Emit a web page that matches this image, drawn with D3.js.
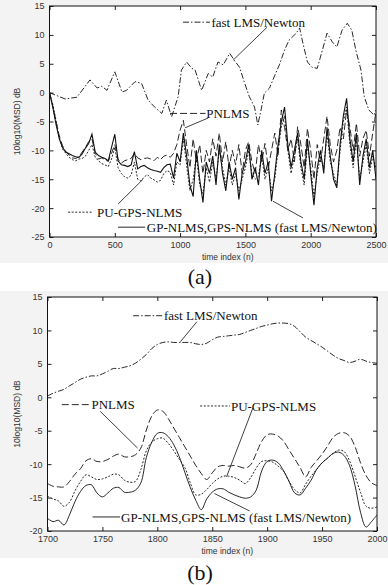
<!DOCTYPE html>
<html>
<head>
<meta charset="utf-8">
<script src="https://cdn.jsdelivr.net/npm/d3@7"></script>
<style>
  body { margin: 0; background: #fff; }
  svg { display: block; }
</style>
</head>
<body>
<div id="chart"></div>
<script>
// ---- panel (a) data ----
const aXTicks = [0, 500, 1000, 1500, 2000, 2500];
const aYTicks = [15, 10, 5, 0, -5, -10, -15, -20, -25];

// lower curves sampled every 25 samples, n = 0..2500
const aIndex = d3.range(0, 2501, 25);

const aGP = [
  0, -2.5, -5.5, -8, -9.5, -10.3, -10.6, -10.9, -11.1, -11.2,
  -10.6, -9.6, -8.8, -7.2, -10.3, -10.9, -11.2, -11.4, -11.8, -9.5,
  -7.2, -11.8, -12.5, -12.6, -12.8, -12.5, -10.2, -13.2, -12.8, -12.6,
  -13.0, -13.3, -13.5, -13.6, -13.8, -13.0, -12.5, -12.4, -14.8, -10.5,
  -12, -7, -11, -16, -18, -10, -15, -19, -12, -14,
  -11, -16, -9, -14, -17, -12, -15, -13, -18.5, -14,
  -12, -9, -15, -13, -16, -10, -14, -12, -18.8, -14,
  -9, -5, -2.5, -9, -13, -10, -7, -12, -15, -8,
  -14, -19.5, -13, -10, -14, -6, -11, -15, -16.5, -9,
  -4, -1, -8, -12, -7, -16, -11, -8, -13, -10,
  -15
];

const aPN = [
  0, -2.3, -5, -7.5, -9.2, -10.2, -10.8, -11.3, -11.4, -11.1,
  -10.3, -9.5, -8.5, -8.0, -10.5, -11.5, -11.3, -11.6, -11.9, -10.5,
  -9.0, -11.5, -12.2, -11.8, -11.6, -11.4, -10.5, -11.3, -11.6, -11.4,
  -11.3, -11.5, -11.8, -11.2, -11.6, -11.0, -10.8, -11.2, -10.5, -9.0,
  -6.5, -4.8, -9, -13, -8, -12, -9, -14, -10, -12,
  -8, -11, -7, -12, -8.5, -13, -10, -12.5, -9, -14,
  -10, -8.5, -12, -14, -9, -12, -8.8, -13, -10, -7,
  -11, -3, -6, -10, -8, -12, -5.9, -9, -13, -6.2,
  -10, -15, -9, -12, -8, -4.1, -9, -12, -10, -6,
  -8, -3, -6, -10, -5.3, -11, -8, -6.5, -11, -7,
  -3.3
];

const aPU = [
  0, -2.0, -4.8, -7.8, -9.8, -10.5, -11.2, -11.6, -11.8, -11.5,
  -11.4, -11.0, -10.0, -9.0, -11.2, -11.8, -12.3, -12.5, -12.8, -11.5,
  -9.5, -13.0, -14.0, -14.6, -14.8, -14.3, -12.0, -15.0, -15.3, -14.6,
  -14.2, -14.8, -15.1, -15.5, -15.2, -14.0, -13.5, -13.8, -16.0, -12.0,
  -12.5, -8, -12.5, -17, -15, -11, -16, -17.5, -13, -15.5,
  -12, -15, -10, -13, -16, -13, -16, -14, -17, -15,
  -13, -10, -14, -15, -14.5, -11, -15, -13, -17, -15,
  -10, -6, -4, -10, -14, -11, -8, -13, -16, -9,
  -13, -18, -14, -11, -13, -7, -12, -14, -16, -10,
  -5, -2.5, -9, -13, -8, -15, -12, -9, -14, -11,
  -13
];

// fast LMS/Newton read at its turning points
const aFastN = [0, 120, 210, 310, 365, 400, 440, 500, 555, 590, 655, 705, 755, 805, 860, 895, 935, 985,
  1010, 1050, 1090, 1115, 1165, 1215, 1250, 1290, 1330, 1380, 1415, 1455, 1495, 1530, 1570, 1595, 1620,
  1645, 1685, 1725, 1760, 1800, 1835, 1890, 1915, 1940, 1975, 2010, 2050, 2090, 2125, 2165, 2200, 2240,
  2280, 2315, 2345, 2385, 2410, 2445, 2485, 2500];
const aFast = [0, -1.1, -0.8, 2.2, 0.8, 1.1, 0.4, 3.6, 0.1, 0.4, 1.9, 1.6, -1.3, -2.5, -3.6, -1.3, -4.2, -0.7,
  3.9, 5.3, 4.2, 3.9, 0.4, 3.3, 2.7, 5.3, 4.8, 6.8, 5.6, 4.4, 1.6, -0.7, -2.5, -5.6, -3.0,
  -0.1, 0.8, 3.0, 4.8, 7.4, 9.1, 10.3, 11.2, 8.6, 5.3, 4.4, 4.2, 7.4, 10.3, 8.8, 7.9, 10.8,
  12.0, 10.8, 7.4, 3.9, -0.7, -3.0, -3.9, -3.0];

// ---- panel (b) data ----
const bXTicks = [1700, 1750, 1800, 1850, 1900, 1950, 2000];
const bYTicks = [15, 10, 5, 0, -5, -10, -15, -20];
const bIndex = d3.range(1700, 2001, 5);

const bFast = [
  0.2, 0.6, 0.9, 1.2, 1.7, 2.2, 2.7, 3.0, 3.2, 3.2,
  3.5, 3.9, 4.3, 4.3, 4.5, 4.7, 5.1, 5.7, 6.4, 7.3,
  7.9, 8.2, 8.3, 8.2, 8.2, 8.2, 8.2, 8.0, 7.9, 8.1,
  8.6, 9.0, 9.1, 9.2, 9.3, 9.4, 9.7, 10.0, 10.3, 10.6,
  10.8, 11.0, 11.1, 11.1, 11.0, 10.6, 9.8, 9.0, 8.5, 8.0,
  7.5, 6.9, 6.3, 5.8, 5.5, 5.2, 5.4, 5.7, 5.4, 5.2,
  5.1
];
const bPN = [
  -12.9, -13.3, -13.4, -13.4, -12.6, -11.5, -10.7, -9.5, -9.2, -9.6,
  -9.6, -9.3, -8.8, -8.5, -8.9, -8.9, -8.6, -7.6, -4.9, -2.8,
  -1.9, -2.1, -3.2, -4.6, -6.0, -7.4, -8.8, -10.2, -11.4, -12.3,
  -11.3, -10.4, -10.2, -10.3, -10.2, -10.4, -10.6, -10.1, -8.4, -6.6,
  -5.6, -5.5, -5.8, -6.6, -7.9, -9.2, -10.5, -11.9, -10.5, -9.5,
  -8.5, -7.3, -6.0, -5.4, -5.3, -5.8, -7.4, -9.8, -11.7, -12.8,
  -13.2
];
const bPU = [
  -14.8, -15.2, -15.5, -16.3, -15.7, -14.0, -12.6, -11.6, -11.9, -12.3,
  -12.2, -11.9, -11.5, -11.6, -12.4, -12.7, -12.6, -10.8, -8.0, -6.7,
  -6.2, -6.1, -6.9, -8.0, -9.3, -10.5, -12.8, -14.6, -14.5, -13.8,
  -12.9, -12.2, -11.8, -11.8, -12.0, -12.4, -12.9, -12.0, -10.6, -9.6,
  -9.5, -9.7, -10.3, -11.1, -12.6, -13.8, -14.3, -13.0, -11.8, -10.8,
  -9.8, -9.1, -8.4, -7.9, -8.1, -9.5, -11.8, -14.2, -16.3, -16.6,
  -16.4
];
const bGP = [
  -18.1, -18.6, -18.4, -19.1, -17.6, -15.6, -14.1, -13.2, -13.1, -14.3,
  -14.9, -14.3, -13.6, -13.5, -14.2, -14.2, -13.9, -12.8, -9.0, -6.7,
  -5.4, -5.3, -5.9, -7.1, -8.9, -11.2, -13.5, -15.4, -16.8, -15.2,
  -14.2, -13.7, -13.7, -14.2, -14.6, -14.9, -15.1, -14.9, -13.9, -11.0,
  -9.6, -9.4, -9.8, -11.0, -12.6, -14.3, -14.6, -13.6, -12.4, -10.8,
  -9.8, -9.1, -8.4, -8.2, -8.7, -10.2, -13.2, -17.2, -19.4, -18.6,
  -17.6
];

// line styles
const styles = {
  fast: '6,2,1.5,2',
  pn: '7,3',
  pu: '2,1.6',
  gp: null
};

const W = 388, H = 585;
const svg = d3.select('#chart').append('svg')
  .attr('width', W).attr('height', H)
  .style('font-family', '"Liberation Sans", Arial, sans-serif');

// scanned figure background
svg.append('rect').attr('x', 0).attr('y', 0).attr('width', W).attr('height', 263).attr('fill', '#f3f3f3');
svg.append('rect').attr('x', 0).attr('y', 291).attr('width', W).attr('height', 267).attr('fill', '#f3f3f3');

function drawPanel(cfg) {
  const x = d3.scaleLinear().domain(cfg.xDomain).range([cfg.left, cfg.right]);
  const y = d3.scaleLinear().domain(cfg.yDomain).range([cfg.bottom, cfg.top]);
  const g = svg.append('g');

  g.append('rect')
    .attr('x', cfg.left).attr('y', cfg.top)
    .attr('width', cfg.right - cfg.left).attr('height', cfg.bottom - cfg.top)
    .attr('fill', '#fff');

  const clipId = 'clip' + cfg.name;
  svg.append('clipPath').attr('id', clipId).append('rect')
    .attr('x', cfg.left).attr('y', cfg.top)
    .attr('width', cfg.right - cfg.left).attr('height', cfg.bottom - cfg.top);

  const lines = g.append('g').attr('clip-path', `url(#${clipId})`);
  cfg.series.forEach(s => {
    const pts = s.n.map((n, i) => [n, s.v[i]]);
    const line = d3.line()
      .x(d => x(d[0]))
      .y(d => y(d[1]))
      .curve(cfg.smooth ? d3.curveCatmullRom.alpha(0.5) : d3.curveLinear);
    lines.append('path')
      .attr('d', line(pts))
      .attr('fill', 'none')
      .attr('stroke', '#111')
      .attr('stroke-width', s.width || 0.9)
      .attr('stroke-dasharray', s.dash);
  });

  // axes: MATLAB style ticks pointing inward on all four sides
  const tickLen = 4;
  const bottomAxis = d3.axisBottom(x).tickValues(cfg.xTicks).tickSize(-tickLen).tickPadding(5).tickFormat(d3.format('d'));
  const topAxis = d3.axisTop(x).tickValues(cfg.xTicks).tickSize(-tickLen).tickFormat('');
  const leftAxis = d3.axisLeft(y).tickValues(cfg.yTicks).tickSize(-tickLen).tickPadding(5).tickFormat(d => d3.format('d')(d).replace('−', '-'));
  const rightAxis = d3.axisRight(y).tickValues(cfg.yTicks).tickSize(-tickLen).tickFormat('');

  [
    [bottomAxis, `translate(0,${cfg.bottom})`],
    [topAxis, `translate(0,${cfg.top})`],
    [leftAxis, `translate(${cfg.left},0)`],
    [rightAxis, `translate(${cfg.right},0)`]
  ].forEach(([ax, tr]) => {
    const a = g.append('g').attr('transform', tr).call(ax);
    a.select('.domain').remove();
    a.selectAll('line').attr('stroke', '#222');
    a.selectAll('text').attr('fill', '#333').style('font-size', '9px').style('font-family', '"Liberation Sans", Arial, sans-serif');
  });

  g.append('rect')
    .attr('x', cfg.left).attr('y', cfg.top)
    .attr('width', cfg.right - cfg.left).attr('height', cfg.bottom - cfg.top)
    .attr('fill', 'none').attr('stroke', '#111').attr('stroke-width', 1);

  // axis titles
  g.append('text')
    .attr('x', (cfg.left + cfg.right) / 2 + 15)
    .attr('y', cfg.bottom + 23)
    .attr('text-anchor', 'middle')
    .style('font-size', '8.5px').attr('fill', '#333')
    .text('time index (n)');
  g.append('text')
    .attr('transform', `translate(20,${(cfg.top + cfg.bottom) / 2}) rotate(-90)`)
    .attr('text-anchor', 'middle')
    .style('font-size', '8.5px').attr('fill', '#333')
    .text('10log10(MSD) dB');

  // annotations: legend sample, label and pointer
  cfg.notes.forEach(nt => {
    g.append('line')
      .attr('x1', x(nt.sample[0])).attr('x2', x(nt.sample[1]))
      .attr('y1', y(nt.at[1])).attr('y2', y(nt.at[1]))
      .attr('stroke', '#111').attr('stroke-width', 0.9)
      .attr('stroke-dasharray', nt.dash);
    g.append('text')
      .attr('x', x(nt.at[0])).attr('y', y(nt.at[1]))
      .attr('dy', '0.35em')
      .style('font-family', '"Liberation Serif", "Times New Roman", serif')
      .style('font-size', '13px').attr('fill', '#111')
      .text(nt.label);
    g.append('line')
      .attr('x1', x(nt.from[0])).attr('y1', y(nt.from[1]))
      .attr('x2', x(nt.to[0])).attr('y2', y(nt.to[1]))
      .attr('stroke', '#111').attr('stroke-width', 0.8);
  });

  svg.append('text')
    .attr('x', 200).attr('y', cfg.captionY)
    .attr('text-anchor', 'middle')
    .style('font-family', '"Liberation Serif", "Times New Roman", serif')
    .style('font-size', '22px').attr('fill', '#111')
    .text(cfg.caption);
}

drawPanel({
  name: 'a',
  left: 49.5, right: 376, top: 6, bottom: 237,
  xDomain: [0, 2500], yDomain: [-25, 15],
  xTicks: aXTicks, yTicks: aYTicks,
  smooth: false,
  series: [
    { n: aFastN, v: aFast, dash: styles.fast },
    { n: aIndex, v: aPN, dash: styles.pn },
    { n: aIndex, v: aPU, dash: styles.pu },
    { n: aIndex, v: aGP, dash: styles.gp, width: 1.1 }
  ],
  notes: [
    { label: 'fast LMS/Newton', dash: styles.fast, sample: [1022, 1229], at: [1240, 12.2], from: [1665, 11.3], to: [1405, 5.6] },
    { label: 'PNLMS', dash: styles.pn, sample: [923, 1195], at: [1200, -3.6], from: [1214, -4.4], to: [1037, -6.1] },
    { label: 'PU-GPS-NLMS', dash: styles.pu, sample: [142, 333], at: [364, -20.7], from: [525, -19.3], to: [716, -15.0] },
    { label: 'GP-NLMS,GPS-NLMS (fast LMS/Newton)', dash: null, sample: [525, 732], at: [745, -23.3], from: [1941, -21.7], to: [1711, -18.8] }
  ],
  caption: '(a)', captionY: 284
});

drawPanel({
  name: 'b',
  left: 47.5, right: 377, top: 297, bottom: 531,
  xDomain: [1700, 2000], yDomain: [-20, 15],
  xTicks: bXTicks, yTicks: bYTicks,
  smooth: true,
  series: [
    { n: bIndex, v: bFast, dash: styles.fast },
    { n: bIndex, v: bPN, dash: styles.pn },
    { n: bIndex, v: bPU, dash: styles.pu },
    { n: bIndex, v: bGP, dash: styles.gp }
  ],
  notes: [
    { label: 'fast LMS/Newton', dash: styles.fast, sample: [1778, 1805], at: [1806, 12.2], from: [1836, 11.3], to: [1821, 8.3] },
    { label: 'PNLMS', dash: styles.pn, sample: [1713, 1739], at: [1740, -1.1], from: [1748, -2.1], to: [1782, -7.6] },
    { label: 'PU-GPS-NLMS', dash: styles.pu, sample: [1839, 1866], at: [1867, -1.3], from: [1887, -1.6], to: [1863, -11.9] },
    { label: 'GP-NLMS,GPS-NLMS (fast LMS/Newton)', dash: null, sample: [1741, 1766], at: [1767, -17.9], from: [1884, -17.0], to: [1852, -14.4] }
  ],
  caption: '(b)', captionY: 580
});
</script>
</body>
</html>
